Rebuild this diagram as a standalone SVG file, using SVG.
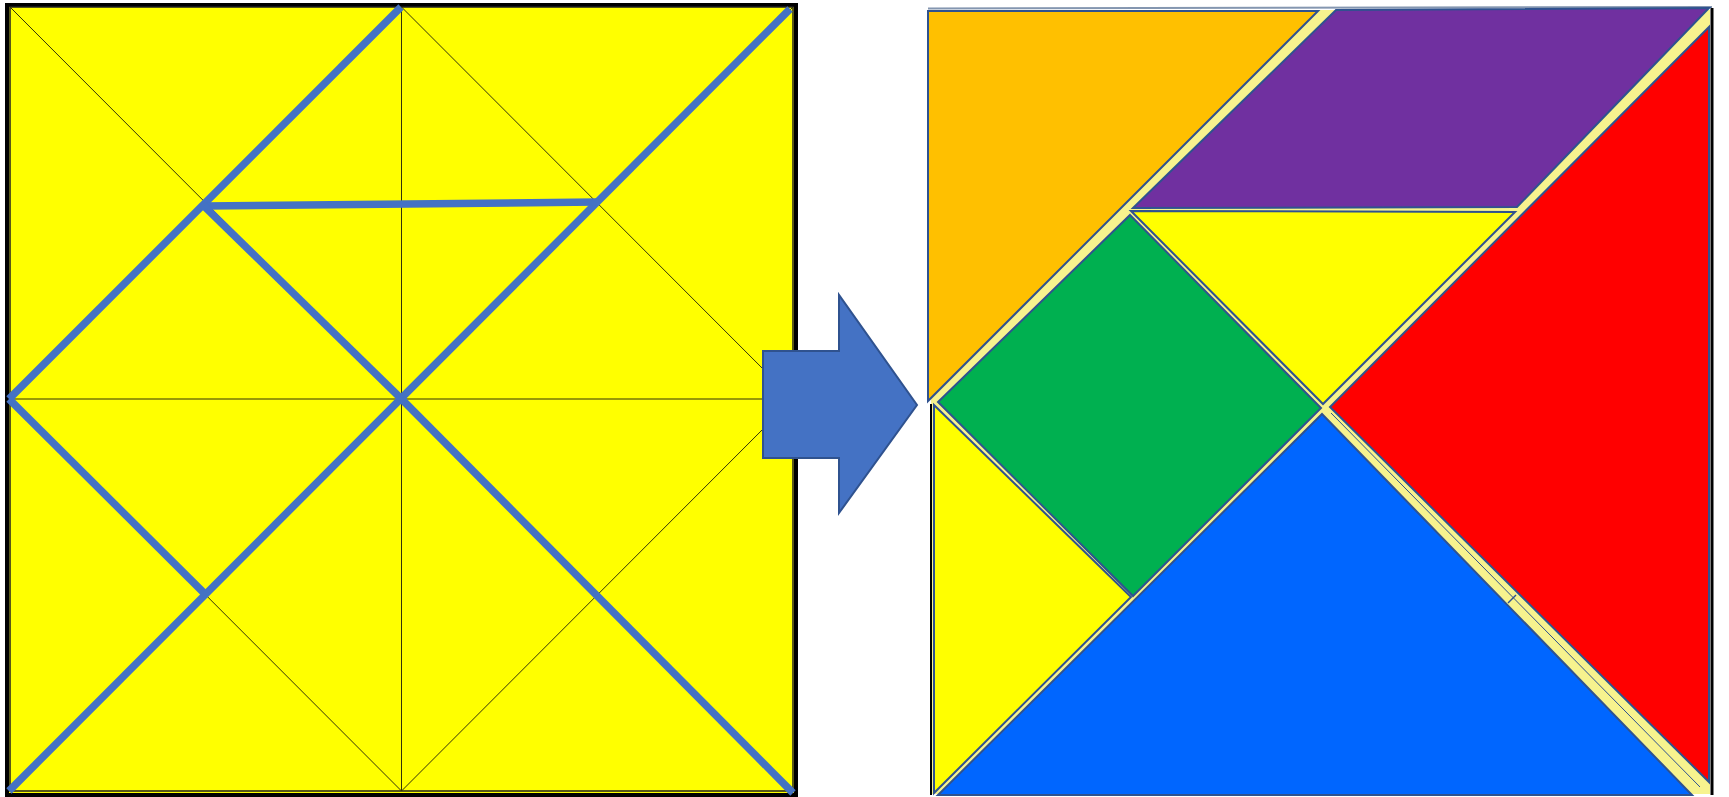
<svg xmlns="http://www.w3.org/2000/svg" width="1729" height="797" viewBox="0 0 1729 797">
<defs>
<style>
.thin{stroke:#33330a;stroke-width:1;fill:none}
.cut{stroke:#4472C4;stroke-width:7.5;fill:none;stroke-linecap:butt}
.pc{stroke:#2F528F;stroke-width:2;stroke-linejoin:miter}
</style>
</defs>
<rect width="1729" height="797" fill="#ffffff"/>
<g id="source-square">
<rect x="7" y="5" width="789" height="790" fill="#FFFF00" stroke="#000" stroke-width="4"/>
<rect x="10" y="7" width="783" height="784" fill="none" stroke="#222" stroke-width="1.5"/>
<g class="thin">
<line x1="401.5" y1="7" x2="401.5" y2="791"/>
<line x1="10" y1="399" x2="793" y2="399"/>
<line x1="10" y1="7" x2="793" y2="791"/>
<line x1="793" y1="7" x2="10" y2="791"/>
<polygon points="401.5,7 793,399 401.5,791 10,399"/>
</g>
</g>
<g id="cuts">
<line class="cut" x1="9" y1="399" x2="401" y2="7"/>
<line class="cut" x1="790" y1="9" x2="9" y2="791"/>
<line class="cut" x1="204" y1="206" x2="597" y2="202"/>
<line class="cut" x1="204" y1="206" x2="401.5" y2="399"/>
<line class="cut" x1="401.5" y1="399" x2="793" y2="793"/>
<line class="cut" x1="9" y1="399" x2="206" y2="595"/>
</g>
<g id="arrow">
<polygon points="763,351 839,351 839,295 917,405 839,513 839,458 763,458" fill="#4472C4" stroke="#2F528F" stroke-width="2"/>
</g>
<g id="tangram">
<rect x="931" y="10" width="779" height="784" fill="#F7F38E"/>
<line x1="928" y1="8.5" x2="1712" y2="7" stroke="#8496B0" stroke-width="2"/>
<line x1="1712" y1="8" x2="1712" y2="795" stroke="#000" stroke-width="3"/>
<line x1="931" y1="404" x2="931" y2="795" stroke="#000" stroke-width="2"/>
<g id="orange"><polygon class="pc" points="928,11 1318,11 928,401" fill="#FFC000"/></g>
<g id="purple"><polygon class="pc" points="1336,10 1709,8 1517,207 1133,208" fill="#7030A0"/></g>
<g id="yellow-top"><polygon class="pc" points="1131,211 1515,212 1323,404" fill="#FFFF00"/></g>
<g id="red"><polygon class="pc" points="1709,27 1709,782 1330,407" fill="#FF0000"/></g>
<g id="green"><polygon class="pc" points="1130,215 1321,408 1133,596 938,402" fill="#00B050"/></g>
<g id="yellow-bottom"><polygon class="pc" points="934,405 1131,597 934,793" fill="#FFFF00"/></g>
<g id="blue"><polygon class="pc" points="1322,414 1692,795 938,795" fill="#0066FF"/></g>
<line x1="1331" y1="413" x2="1700" y2="787" stroke="#2F528F" stroke-width="1"/>
<line x1="1508" y1="603" x2="1516" y2="595" stroke="#2F528F" stroke-width="1.5"/>
</g>
</svg>
